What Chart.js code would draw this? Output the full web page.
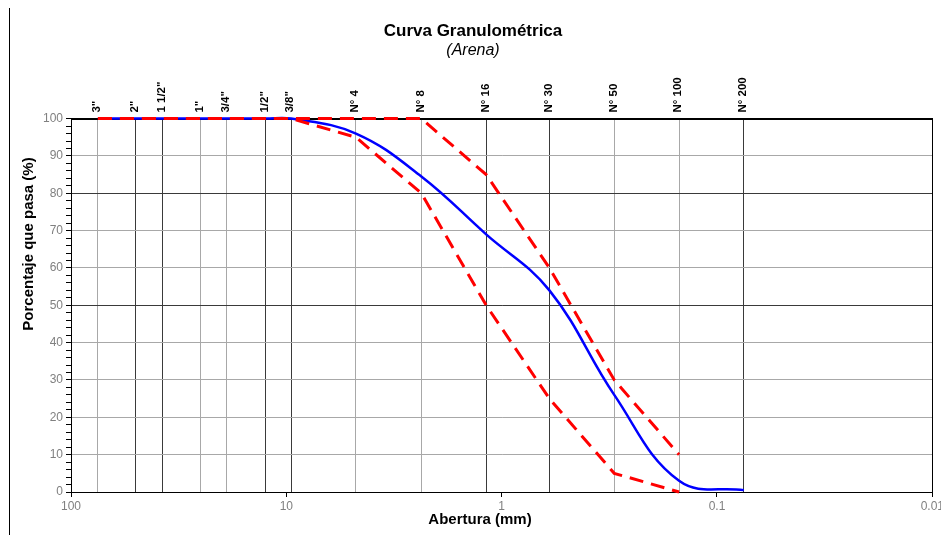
<!DOCTYPE html>
<html>
<head>
<meta charset="utf-8">
<script src="https://cdn.jsdelivr.net/npm/chart.js@4/dist/chart.umd.min.js"></script>
<style>
  html, body { margin: 0; padding: 0; background: #fff; overflow: hidden; }
  #wrap { position: relative; width: 946px; height: 535px; }
  #frame { position: absolute; left: 9px; top: 8px; width: 1px; height: 527px; background: #000; }
  canvas { position: absolute; left: 0; top: 0; }
</style>
</head>
<body>
<div id="wrap">
  <canvas id="graphCanvas" width="946" height="535"></canvas>
  <div id="frame"></div>
</div>
<script>
// Tamices (abertura en mm) y sus nombres
const sieveLabels = ['3"', '2"', '1 1/2"', '1"', '3/4"', '1/2"', '3/8"', 'N° 4', 'N° 8', 'N° 16', 'N° 30', 'N° 50', 'N° 100', 'N° 200'];
const sieveSizes = [75, 50, 37.5, 25, 19, 12.5, 9.5, 4.75, 2.36, 1.18, 0.6, 0.3, 0.15, 0.075];

// Porcentaje que pasa
const arena = [100, 100, 100, 100, 100, 100, 100, 96, 84.5, 69, 54, 26, 3, 0.5];
const limiteSuperior = [100, 100, 100, 100, 100, 100, 100, 100, 100, 85, 60, 30, 10, null];
const limiteInferior = [100, 100, 100, 100, 100, 100, 100, 95, 80, 50, 25, 5, 0, null];

const xTicks = [100, 10, 1, 0.1, 0.01];

const FONT = '"Liberation Sans", Arial, sans-serif';

function toPoints(values) {
    return sieveSizes
        .map((s, i) => ({x: s, y: values[i]}))
        .filter(p => p.y !== null);
}

// Marco del área de trazado y títulos de los ejes
const extras = {
    id: 'extras',
    beforeDatasetsDraw(chart) {
        const {ctx, chartArea: a} = chart;
        ctx.save();
        ctx.strokeStyle = '#000';
        ctx.lineWidth = 1;
        ctx.strokeRect(Math.round(a.left) + 0.5, Math.round(a.top) + 0.5,
            Math.round(a.right - a.left), Math.round(a.bottom - a.top));
        ctx.restore();
    },
    afterDraw(chart) {
        const {ctx} = chart;
        ctx.save();
        ctx.fillStyle = '#000';
        ctx.font = 'bold 15px ' + FONT;
        ctx.textAlign = 'center';
        ctx.textBaseline = 'middle';
        ctx.fillText('Abertura (mm)', 480, 520);
        ctx.translate(29, 244);
        ctx.rotate(-Math.PI / 2);
        ctx.fillText('Porcentaje que pasa (%)', 0, 0);
        ctx.restore();
    }
};

const ctx = document.getElementById('graphCanvas').getContext('2d');
const chart = new Chart(ctx, {
    type: 'line',
    data: {
        datasets: [{
            label: 'Límite superior',
            data: toPoints(limiteSuperior),
            borderColor: '#ff0000',
            borderWidth: 3,
            borderDash: [14, 8],
            pointRadius: 0,
            tension: 0,
            clip: 4,
            fill: false
        }, {
            label: 'Límite inferior',
            data: toPoints(limiteInferior),
            borderColor: '#ff0000',
            borderWidth: 3,
            borderDash: [14, 8],
            pointRadius: 0,
            tension: 0,
            clip: 4,
            fill: false
        }, {
            label: 'Arena',
            data: toPoints(arena),
            borderColor: '#0000ff',
            borderWidth: 2.5,
            pointRadius: 0,
            tension: 0.4,
            capBezierPoints: false,
            clip: 4,
            fill: false
        }]
    },
    options: {
        responsive: false,
        animation: false,
        layout: {padding: {left: 0, right: 0, top: 0, bottom: 21}},
        plugins: {
            legend: {display: false},
            tooltip: {enabled: false},
            title: {
                display: true,
                text: 'Curva Granulométrica',
                color: '#000',
                font: {family: FONT, size: 17, weight: 'bold'},
                padding: {top: 21, bottom: 0}
            },
            subtitle: {
                display: true,
                text: '(Arena)',
                color: '#000',
                font: {family: FONT, size: 16, style: 'italic'},
                padding: {top: 0, bottom: 14}
            }
        },
        scales: {
            x: {
                type: 'logarithmic',
                position: 'bottom',
                min: 0.01,
                max: 100,
                reverse: true,
                afterBuildTicks: scale => { scale.ticks = xTicks.map(v => ({value: v})); },
                afterFit: scale => { scale.height = 22; },
                ticks: {
                    autoSkip: false,
                    maxRotation: 0,
                    color: '#808080',
                    font: {family: FONT, size: 12},
                    padding: 2,
                    callback: v => String(v)
                },
                grid: {display: true, drawOnChartArea: false, tickLength: 5, tickColor: '#000'},
                border: {display: true, color: '#000'}
            },
            xTop: {
                type: 'logarithmic',
                position: 'top',
                min: 0.01,
                max: 100,
                reverse: true,
                afterBuildTicks: scale => { scale.ticks = sieveSizes.map(v => ({value: v})); },
                afterFit: scale => { scale.height = 44; },
                ticks: {
                    autoSkip: false,
                    minRotation: 90,
                    maxRotation: 90,
                    labelOffset: 13,
                    color: '#000',
                    font: {family: FONT, size: 11.5, weight: 'bold'},
                    padding: 6,
                    callback: (v, i) => sieveLabels[i]
                },
                grid: {
                    display: true,
                    drawOnChartArea: true,
                    drawTicks: false,
                    color: c => [1, 2].includes(c.index % 4) ? '#3a3a3a' : '#a8a8a8'
                },
                border: {display: true, color: '#000'}
            },
            y: {
                type: 'linear',
                min: 0,
                max: 100,
                afterFit: scale => { scale.width = 71; },
                ticks: {
                    stepSize: 2,
                    autoSkip: false,
                    color: '#808080',
                    font: {family: FONT, size: 12},
                    padding: 3,
                    callback: v => v % 10 === 0 ? v : ''
                },
                grid: {
                    tickLength: 5,
                    tickColor: '#000',
                    color: c => {
                        const v = c.tick ? c.tick.value : 0;
                        if (v % 10 !== 0) return 'rgba(0,0,0,0)';
                        return (v === 50 || v === 80) ? '#3a3a3a' : '#a8a8a8';
                    }
                },
                border: {display: true, color: '#000'}
            }
        }
    },
    plugins: [extras]
});
</script>
</body>
</html>
